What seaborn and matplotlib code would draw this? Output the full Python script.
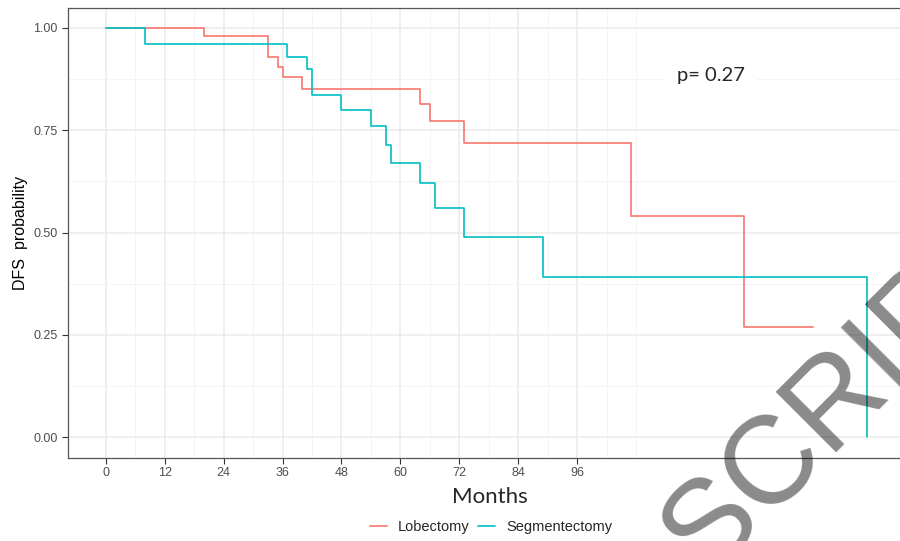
import numpy as np
import pandas as pd
import matplotlib
matplotlib.use("Agg")
import matplotlib.pyplot as plt
import seaborn as sns

# Kaplan-Meier steps (months, survival)
lobe_months = [0, 20, 33, 35, 36, 40, 64, 66, 73, 107, 130, 144]
lobe_surv = [1.0, 0.98, 0.93, 0.905, 0.879, 0.851, 0.814, 0.773, 0.72, 0.54, 0.27, 0.27]

seg_months = [0, 8, 37, 41, 42, 48, 54, 57, 58, 64, 67, 73, 89, 155]
seg_surv = [1.0, 0.96, 0.93, 0.90, 0.835, 0.80, 0.76, 0.714, 0.669, 0.622, 0.559, 0.49, 0.392, 0.0]

groups = ["Lobectomy", "Segmentectomy"]
colors = ["#F8766D", "#00BFC4"]
x_ticks = [0, 12, 24, 36, 48, 60, 72, 84, 96]
x_minor = [6, 18, 30, 42, 54, 66, 78, 90, 102, 108]
y_ticks = [0.0, 0.25, 0.5, 0.75, 1.0]
y_minor = [0.125, 0.375, 0.625, 0.875]
p_text = "p= 0.27"

df = pd.concat([
    pd.DataFrame({"Months": lobe_months, "surv": lobe_surv, "group": groups[0]}),
    pd.DataFrame({"Months": seg_months, "surv": seg_surv, "group": groups[1]}),
])

sns.set_style("white")
plt.rcParams["font.family"] = ["Liberation Sans", "DejaVu Sans"]

W, H = 900, 541
fig = plt.figure(figsize=(W / 100, H / 100), dpi=100)
ax = fig.add_axes([68 / W, 1 - 457.5 / H, 1 - 68 / W, (457.5 - 7.5) / H])

sns.lineplot(data=df, x="Months", y="surv", hue="group", hue_order=groups,
             palette=colors, drawstyle="steps-post", estimator=None, sort=False,
             linewidth=1.2, ax=ax, legend=True, zorder=3)

ax.set_xlim(-7.7, (W - 105.8) / 4.91)
ax.set_ylim(-0.05, 1.05)

ax.set_xticks(x_ticks)
ax.set_xticks(x_minor, minor=True)
ax.set_yticks(y_ticks)
ax.set_yticks(y_minor, minor=True)
ax.set_yticklabels([f"{v:.2f}" for v in y_ticks])
ax.grid(which="major", color="#EBEBEB", linewidth=1.1, zorder=0)
ax.grid(which="minor", color="#F3F3F3", linewidth=0.6, zorder=0)
ax.set_axisbelow(True)
ax.tick_params(which="major", direction="out", length=4, width=0.8,
               color="#333333", labelcolor="#4D4D4D", labelsize=9, pad=3.5,
               bottom=True, left=True)
ax.tick_params(axis="x", which="major", pad=2.5)
ax.tick_params(which="minor", length=0)

for side in ["left", "bottom", "top"]:
    ax.spines[side].set_color("#555555")
    ax.spines[side].set_linewidth(0.9)
ax.spines["right"].set_visible(False)

ax.set_xlabel("")
ax.set_ylabel("DFS  probability", fontsize=11.5, color="black", labelpad=4)

fig.text(490 / W, 1 - 497 / H, "Months", fontsize=16, family=["Lato", "DejaVu Sans"],
         ha="center", va="center")

ax.text(116.3, 0.883, p_text, fontsize=14.5, family=["Lato", "DejaVu Sans"],
        ha="left", va="center", zorder=4,
        bbox=dict(facecolor="white", edgecolor="none", pad=9))

handles, labels = ax.get_legend_handles_labels()
ax.get_legend().remove()
fig.legend(handles, labels, loc="center", bbox_to_anchor=(491 / W, 1 - 527 / H),
           ncol=2, frameon=False, fontsize=10.5, handlelength=1.2,
           columnspacing=0.55, handletextpad=0.75)

# "manuscript" watermark stamped across the lower right
fig.text(706 / W, 1 - 578 / H, "SCRIPT", fontsize=90, color="black", alpha=0.46,
         rotation=45, rotation_mode="anchor", ha="left", va="baseline", zorder=10)

fig.savefig("out.png", dpi=100)
